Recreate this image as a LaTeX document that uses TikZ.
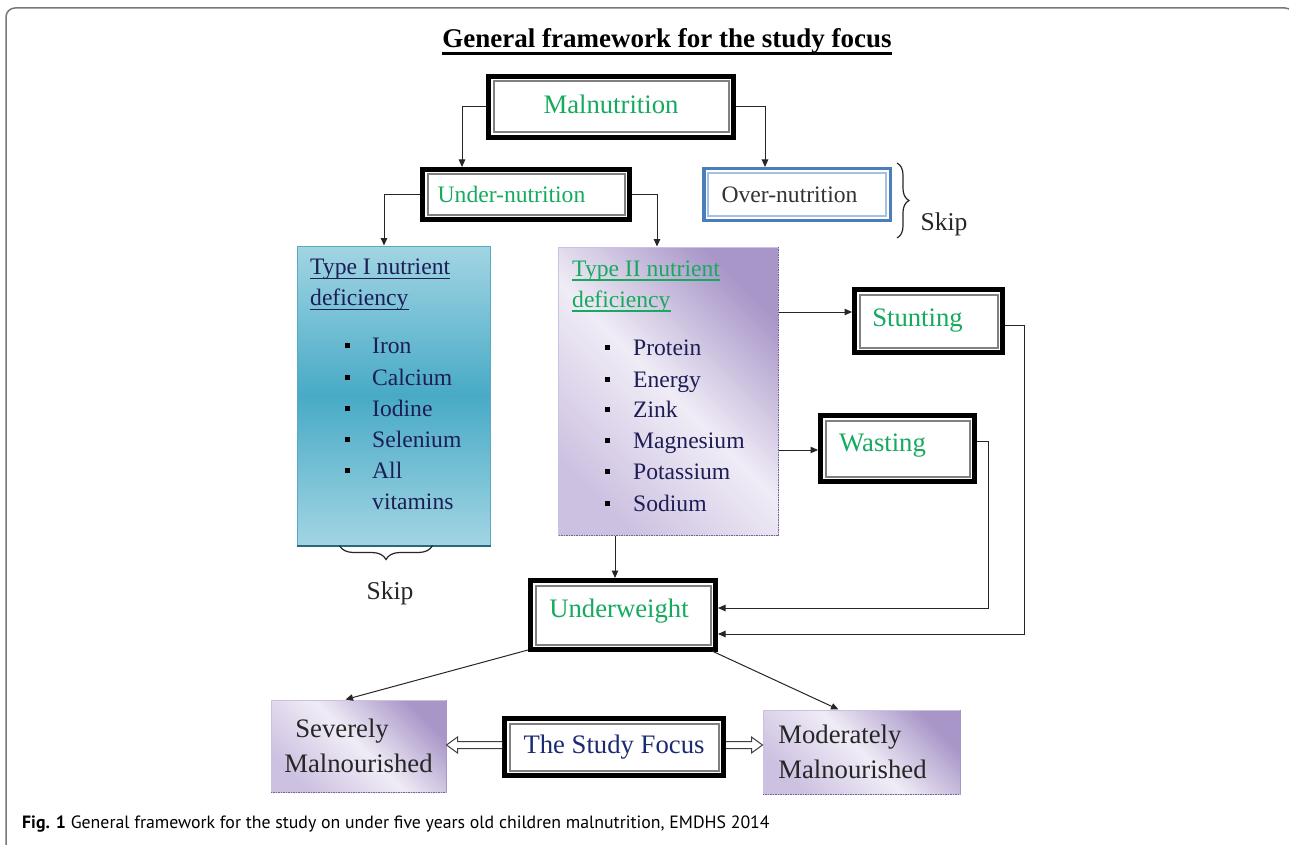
\documentclass[tikz,border=0pt]{standalone}
\usepackage{fontspec}
\setmainfont{Liberation Serif}
\newfontfamily\capfont{PT Sans}
\usetikzlibrary{arrows.meta,decorations.pathreplacing,calc}
\definecolor{tgreen}{RGB}{22,170,95}
\definecolor{navyA}{RGB}{28,30,85}
\definecolor{navyB}{RGB}{28,42,115}
\definecolor{tealD}{RGB}{72,170,198}
\definecolor{tealL}{RGB}{162,213,227}
\definecolor{tealE}{RGB}{90,170,195}
\definecolor{tealB}{RGB}{40,105,125}
\definecolor{purD}{RGB}{168,150,200}
\definecolor{purM}{RGB}{205,193,225}
\definecolor{purL}{RGB}{240,236,246}
\definecolor{purE}{RGB}{120,100,150}
\definecolor{ovblue}{RGB}{74,126,187}
\definecolor{ovblueL}{RGB}{165,192,226}
\definecolor{framegray}{RGB}{120,120,120}
\newcommand\myBig{\fontsize{26.7}{35.5}\selectfont}
\newcommand\myMed{\fontsize{23.6}{28}\selectfont}
\begin{document}
\begin{tikzpicture}[x=1pt,y=-1pt,
  dbox/.style={draw=black, line width=5pt, fill=white, inner sep=0pt},
  innerline/.style={draw=black!50, line width=2pt},
  obox/.style={draw=ovblue, line width=3.5pt, fill=white, inner sep=0pt},
  tonebox/.style={draw=tealE, line width=1pt, top color=tealL, bottom color=tealL, middle color=tealD, inner sep=0pt},
  ttwobox/.style={draw=purM, line width=1pt, top color=purD, bottom color=purM, middle color=purL, shading angle=-45, inner sep=0pt},
  dotedge/.style={draw=purE, densely dotted, line width=1.5pt},
  arr/.style={draw=black!85, line width=1pt, -{Triangle[length=7.5pt,width=6.5pt]}},
  hollow/.style={draw=black!75, line width=1pt, fill=white, line join=miter},
  brc/.style={decorate, decoration={brace, amplitude=12pt}, line width=1.2pt, draw=black!85},
  item/.style={anchor=base west, inner sep=0pt, font=\myMed, text=navyA},
  ttl/.style={anchor=base west, inner sep=0pt, font=\myMed}
]
\useasboundingbox (0,0) rectangle (1289,845);
% frame
\draw[framegray, line width=1.5pt, rounded corners=9pt] (6,860) -- (6,8) -- (1294,8) -- (1294,860);

% title
\node[anchor=base, inner sep=0pt, font=\fontsize{27}{32}\selectfont\bfseries] (title) at (667,48) {General framework for the study focus};
\draw[line width=2.6pt] ([yshift=-5.5pt]title.base west) -- ([yshift=-5.5pt]title.base east);

% top boxes
\node[dbox, minimum width=245pt, minimum height=61pt, text depth=6pt, font=\myBig, text=tgreen] (mal) at (611,107) {Malnutrition};
\node[dbox, minimum width=207pt, minimum height=50pt, font=\myMed, text=tgreen] (under) at (526,194.5) {Under-nutrition\hspace*{29pt}};
\node[obox, minimum width=186.5pt, minimum height=51.5pt, font=\myMed, text=black!80] (over) at (797,194.5) {Over-nutrition\hspace*{15pt}};
\draw[draw=ovblueL, line width=1.5pt] ([shift={(6pt,-6pt)}]over.north west) rectangle ([shift={(-6pt,6pt)}]over.south east);

% Type I box
\node[tonebox, minimum width=193pt, minimum height=299pt] (t1box) at (393.5,395.5) {};
\draw[tealB, line width=2pt] (t1box.south west) -- (t1box.south east);
\node[ttl, text=navyA] (t1a) at (310,274) {Type I nutrient};
\node[ttl, text=navyA] (t1b) at (310,305) {deficiency};
\draw[navyA, line width=1.6pt] ([yshift=-4.5pt]t1a.base west) -- ([yshift=-4.5pt]t1a.base east);
\draw[navyA, line width=1.6pt] ([yshift=-4.5pt]t1b.base west) -- ([yshift=-4.5pt]t1b.base east);
\foreach \nm/\txt/\yy in {iA/Iron/353, iB/Calcium/385, iC/Iodine/416, iD/Selenium/447, iE/All/478}{
  \fill[black] (344.5,\yy-10) rectangle (349.5,\yy-5);
  \node[item] (\nm) at (372,\yy) {\txt};
}
\node[item] (iF) at (372,509) {vitamins};

% Type II box
\node[ttwobox, minimum width=220pt, minimum height=288pt] (t2box) at (668,391) {};
\draw[dotedge] (t2box.north east) -- (t2box.south east) -- (t2box.south west);
\node[ttl, text=tgreen] (t2a) at (572,276) {Type II nutrient};
\node[ttl, text=tgreen] (t2b) at (572,307) {deficiency};
\draw[tgreen, line width=1.6pt] ([yshift=-4pt]t2a.base west) -- ([yshift=-4pt]t2a.base east);
\draw[tgreen, line width=1.6pt] ([yshift=-4pt]t2b.base west) -- ([yshift=-4pt]t2b.base east);
\foreach \nm/\txt/\yy in {jA/Protein/355, jB/Energy/387, jC/Zink/417, jD/Magnesium/448, jE/Potassium/479, jF/Sodium/511}{
  \fill[black] (604.5,\yy-10) rectangle (609.5,\yy-5);
  \node[item] (\nm) at (633,\yy) {\txt};
}

% Stunting, Wasting, Underweight
\node[dbox, minimum width=148pt, minimum height=63pt, font=\myBig, text=tgreen] (stunt) at (928.5,321) {Stunting\hspace*{22pt}};
\node[dbox, minimum width=154pt, minimum height=66pt, text depth=12.5pt, font=\myBig, text=tgreen] (wast) at (897.5,448.5) {Wasting\hspace*{30pt}};
\node[dbox, minimum width=185pt, minimum height=69pt, text depth=14pt, font=\myBig, text=tgreen] (uw) at (623,615) {Underweight\hspace*{8pt}};

% bottom row
\node[ttwobox, minimum width=175pt, minimum height=92pt, align=left, font=\myBig, text=black!85] (sev) at (358.5,746) {\hspace*{11pt}Severely\\Malnourished};
\draw[dotedge] (sev.south west) -- (sev.south east);
\draw[purD, line width=1.5pt] (sev.north east) -- (sev.south east);
\node[dbox, minimum width=219pt, minimum height=57pt, font=\myBig, text=navyB] (focus) at (614,747) {The Study Focus};
\node[ttwobox, minimum width=197pt, minimum height=84pt, align=left, font=\myBig, text=black!85] (mod) at (861.5,752) {Moderately\\Malnourished\hspace*{18pt}};
\draw[dotedge] (mod.south west) -- (mod.south east);
\draw[purD, line width=1.5pt] (mod.north east) -- (mod.south east);

% inner frames of the double boxes
\foreach \n in {mal,under,stunt,wast,uw,focus}{
  \draw[innerline] ([shift={(7.5pt,-7.5pt)}]\n.north west) rectangle ([shift={(-7.5pt,7.5pt)}]\n.south east);
}

% skips and braces
\draw[brc] ($(over.north east)+(5,-4)$) -- ($(over.south east)+(5,16)$);
\node[anchor=base, inner sep=0pt, font=\fontsize{25.6}{30}\selectfont, text=black!85] (skipA) at (944,230) {Skip};
\draw[brc, decoration={amplitude=14pt}] ($(t1box.south west)+(136,0)$) -- ($(t1box.south west)+(43,0)$);
\node[anchor=base, inner sep=0pt, font=\fontsize{25.6}{30}\selectfont, text=black!85] (skipB) at (390,599) {Skip};

% connectors
\draw[arr] (mal.west) -| ($(under.north west)+(42,0)$);
\draw[arr] (mal.east) -| ($(over.north)+(-32,0)$);
\draw[arr] (under.west) -| ($(t1box.north)+(-9.5,0)$);
\draw[arr] (under.east) -| ($(t2box.north)+(-11,0)$);
\draw[arr] (t2box.east |- 0,312) -- (stunt.west |- 0,312);
\draw[arr] (t2box.east |- 0,450) -- (wast.west |- 0,450);
\coordinate (sR) at (1024,634);
\coordinate (wR) at (988,608);
\draw[arr] (stunt.east |- 0,325) -| (sR) -- (uw.east |- sR);
\draw[arr] (wast.east |- 0,441) -| (wR) -- (uw.east |- wR);
\draw[arr] (t2box.south -| 615,0) -- (uw.north -| 615,0);
\draw[arr] ($(uw.south west)+(0,-2)$) -- ($(sev.north)+(-13,0)$);
\draw[arr] ($(uw.south east)+(-6,-1)$) -- ($(mod.north)+(-23,0)$);
% hollow block arrows from the study focus
\coordinate (fL) at ($(focus.west)+(0,-2)$);
\coordinate (fR) at ($(focus.east)+(0,-2)$);
\coordinate (sE) at (sev.east |- fL);
\coordinate (mW) at (mod.west |- fR);
\draw[hollow] ($(fL)+(0,-3.5)$) -- ($(sE)+(11,-3.5)$) -- ($(sE)+(11,-8)$) -- (sE) -- ($(sE)+(11,8)$) -- ($(sE)+(11,3.5)$) -- ($(fL)+(0,3.5)$);
\draw[hollow] ($(fR)+(0,-3.5)$) -- ($(mW)+(-11,-3.5)$) -- ($(mW)+(-11,-8)$) -- (mW) -- ($(mW)+(-11,8)$) -- ($(mW)+(-11,3.5)$) -- ($(fR)+(0,3.5)$);

% caption
\node[anchor=base west, inner sep=0pt, font=\capfont\fontsize{17.8}{21}\selectfont] (cap) at (22,828) {\textbf{Fig. 1} General framework for the study on under five years old children malnutrition, EMDHS 2014};
\end{tikzpicture}
\end{document}
